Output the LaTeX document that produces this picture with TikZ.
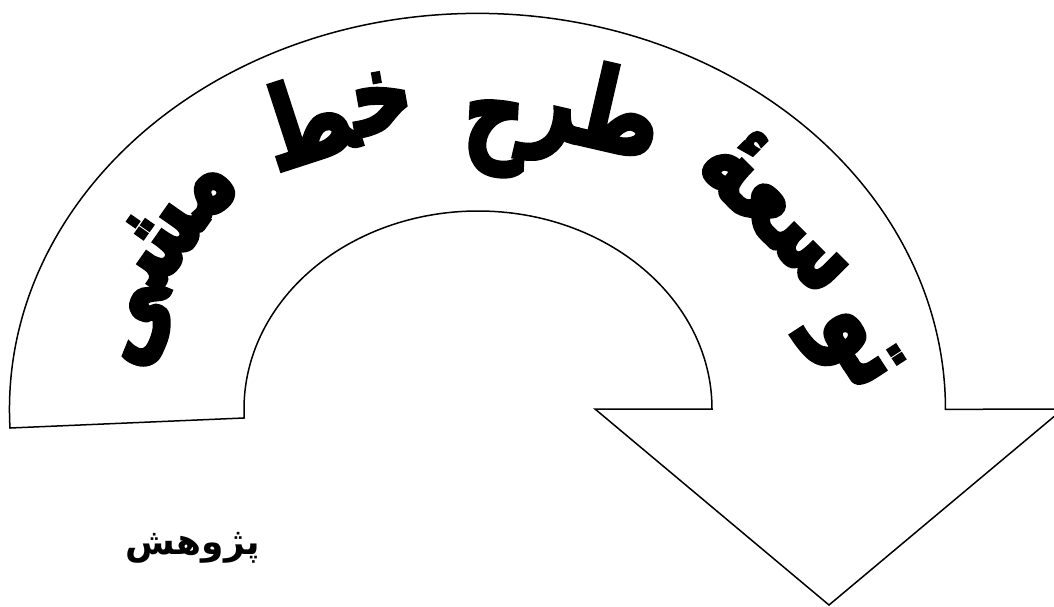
\documentclass[tikz,border=0pt]{standalone}
\usepackage{fontspec}
\TeXXeTstate=1
\newfontfamily\arabicfont[Script=Arabic]{DejaVu Sans}
\newfontfamily\titrfont[Script=Arabic,FakeBold=3.5]{DejaVu Sans}
\tikzset{
  shapeline/.style={draw=black, line width=1.5pt, fill=white, line join=miter},
  arcword/.style={font=\titrfont\bfseries\fontsize{100}{100}\selectfont, inner sep=0pt,
    text height=0.75em, text depth=0.25em},
  tallglyph/.style={xscale=0.85, yscale=1.12},
  label/.style={font=\arabicfont\bfseries\fontsize{36}{36}\selectfont, inner sep=0pt}
}
\begin{document}
\begin{tikzpicture}[x=1pt,y=-1pt]
\useasboundingbox (0,0) rectangle (1054,606);
\clip (0,0) rectangle (1054,606);
\draw[shapeline] (10,428)
  arc[start angle=177.3, end angle=360, x radius=468, y radius=396]
  -- (1063,409) -- (829,605) -- (595,409) -- (712,409)
  arc[start angle=360, end angle=177.4, x radius=234, y radius=198]
  -- cycle;
\node[arcword, rotate=68, tallglyph] (ye) at (152,330) {^^^^200dی};
\node[arcword, rotate=55, tallglyph] (shin) at (182,254) {^^^^200dش^^^^200d};
\node[arcword, rotate=42, tallglyph] (mim) at (221,204) {م^^^^200d};
\node[arcword, rotate=18, tallglyph] (ta1) at (318,156) {^^^^200dط};
\node[arcword, rotate=10, tallglyph] (khe) at (387,129) {خ^^^^200d};
\node[arcword, rotate=-3, tallglyph] (he) at (493,146) {ح};
\node[arcword, rotate=-13, tallglyph] (tare) at (588,143) {\beginR طر\endR};
\node[arcword, rotate=-45, tallglyph] (seen) at (760,232) {\beginR سعهٔ\endR};
\node[arcword, rotate=-57, tallglyph] (tav) at (841,357) {\beginR تو\endR};
\node[label] (research) at (193,548) {\beginR پژوهش\endR};
\end{tikzpicture}
\end{document}
